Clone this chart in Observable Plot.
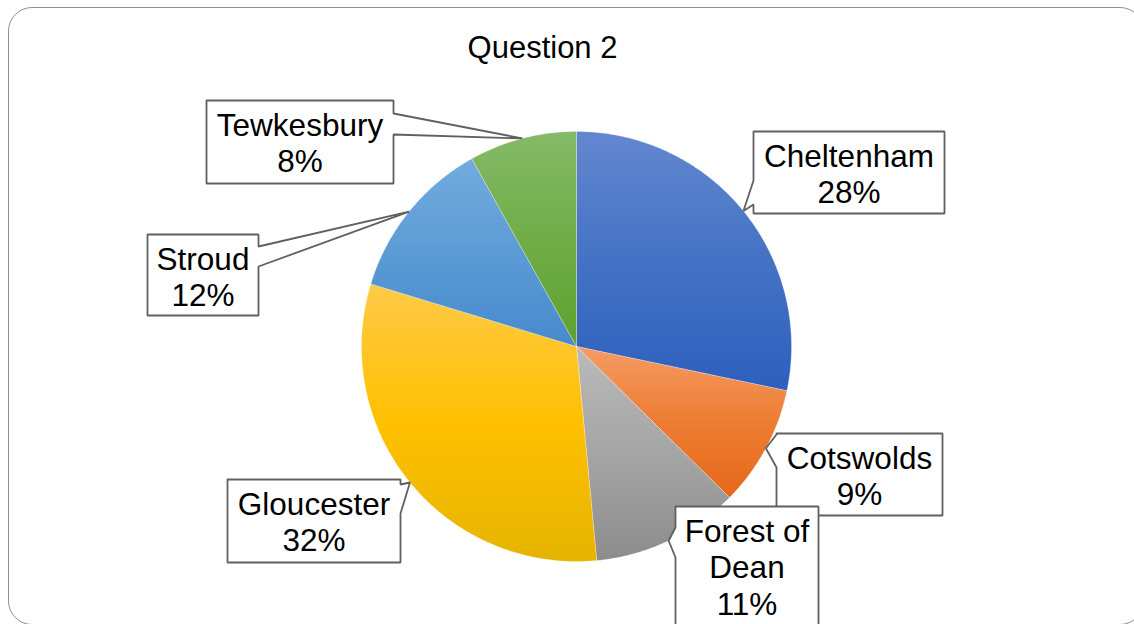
<!DOCTYPE html>
<html><head><meta charset="utf-8">
<script src="https://cdn.jsdelivr.net/npm/d3@7"></script>
<script src="https://cdn.jsdelivr.net/npm/@observablehq/plot@0.6"></script>
<style>
html,body{margin:0;padding:0;background:#fff;overflow:hidden;}
#wrap{position:relative;width:1134px;height:624px;overflow:hidden;background:#fff;}
#chart{position:absolute;left:0;top:0;}
#chart svg{display:block;}
#border{position:absolute;left:8px;top:7px;width:1134px;height:616px;border:1.5px solid #8f8f8f;border-radius:24px;pointer-events:none;}
</style></head><body>
<div id="wrap"><div id="chart"></div><div id="border"></div></div>
<script>
// ---- data ----
const title = "Question 2";
const categories = ["Cheltenham", "Cotswolds", "Forest of Dean", "Gloucester", "Stroud", "Tewkesbury"];
const values = [28.3, 9.1, 11.1, 31.2, 12.2, 8.1];
const percentLabels = ["28%", "9%", "11%", "32%", "12%", "8%"];

// ---- styles ----
const gradientStops = [
  ["#6387cf", "#4472C4", "#2d60bd"],
  ["#f59b66", "#ED7D31", "#e6681b"],
  ["#bababa", "#A5A5A5", "#8c8c8c"],
  ["#ffca48", "#FFC000", "#e5b400"],
  ["#74abdd", "#5B9BD5", "#478acd"],
  ["#85ba68", "#70AD47", "#5fa12f"]
];
const FONT = "'Liberation Sans', Arial, Helvetica, sans-serif";

// ---- layout ----
const W = 1134, H = 624;
const cx = 576, cy = 346, R = 215;
const titlePos = {x: 542, y: 57};
const labelLayout = [
  {lines: ["Cheltenham"], box: [753, 131, 944, 213], side: "left", wedge: [180, 204]},
  {lines: ["Cotswolds"], box: [776, 433, 942, 515], side: "left", wedge: [434, 467]},
  {lines: ["Forest of", "Dean"], box: [675, 506, 818, 650], side: "left", wedge: [527, 557]},
  {lines: ["Gloucester"], box: [227, 479, 400, 562], side: "right", wedge: [484, 513]},
  {lines: ["Stroud"], box: [147, 234, 258, 315], side: "right", wedge: [246, 266]},
  {lines: ["Tewkesbury"], box: [206, 100, 393, 183], side: "right", wedge: [113, 134]}
];
const firstBaseline = 35, lineStep = 36.5;

// ---- derived geometry ----
const total = d3.sum(values);
const pt = (a, r) => ({x: cx + r * Math.sin(a), y: cy - r * Math.cos(a)});
let cum = 0;
const slices = values.map((v, i) => {
  const a0 = cum / total * 2 * Math.PI;
  cum += v;
  const a1 = cum / total * 2 * Math.PI;
  const n = Math.max(2, Math.ceil((a1 - a0) / (Math.PI / 360)));
  const pts = [{x: cx, y: cy}];
  for (let k = 0; k <= n; k++) pts.push(pt(a0 + (a1 - a0) * k / n, R));
  pts.push({x: cx, y: cy});
  return {i, a0, a1, mid: (a0 + a1) / 2, pts};
});

const boxes = labelLayout.map((L, i) => {
  const [x0, y0, x1, y1] = L.box;
  const tip = pt(slices[i].mid, R);
  const [a, b] = L.wedge;
  let poly;
  if (L.side === "left") {
    poly = [{x: x0, y: y0}, {x: x1, y: y0}, {x: x1, y: y1}, {x: x0, y: y1}, {x: x0, y: b}, tip, {x: x0, y: a}, {x: x0, y: y0}];
  } else {
    poly = [{x: x0, y: y0}, {x: x1, y: y0}, {x: x1, y: a}, tip, {x: x1, y: b}, {x: x1, y: y1}, {x: x0, y: y1}, {x: x0, y: y0}];
  }
  return poly;
});

const textRows = [];
labelLayout.forEach((L, i) => {
  const [x0, y0, x1] = L.box;
  const lines = [...L.lines, percentLabels[i]];
  lines.forEach((t, k) => textRows.push({x: (x0 + x1) / 2, y: y0 + firstBaseline + k * lineStep, t}));
});

const marks = [];
slices.forEach(s => {
  marks.push(Plot.line(s.pts, {x: "x", y: "y", fill: `url(#grad${s.i})`, stroke: "#ffffff", strokeWidth: 0.6, strokeOpacity: 0.45, curve: "linear-closed"}));
});
boxes.forEach(poly => {
  marks.push(Plot.line(poly, {x: "x", y: "y", fill: "#ffffff", stroke: "#606060", strokeWidth: 1.8, curve: "linear", strokeLinejoin: "miter"}));
});
marks.push(Plot.text(textRows, {x: "x", y: "y", text: "t", fontSize: 31.5, fill: "#000", lineAnchor: "bottom", textAnchor: "middle", fontFamily: FONT}));
marks.push(Plot.text([title], {x: () => titlePos.x, y: () => titlePos.y, text: d => d, fontSize: 31, fill: "#000", lineAnchor: "bottom", textAnchor: "middle", fontFamily: FONT}));

const svg = Plot.plot({
  width: W, height: H,
  margin: 0,
  x: {domain: [0, W], range: [0, W], axis: null},
  y: {domain: [0, H], range: [0, H], axis: null},
  style: {background: "transparent", fontFamily: FONT, overflow: "visible"},
  marks
});

const defs = d3.select(svg).insert("defs", ":first-child");
gradientStops.forEach((st, i) => {
  const g = defs.append("linearGradient").attr("id", `grad${i}`).attr("x1", 0).attr("y1", 0).attr("x2", 0).attr("y2", 1);
  g.append("stop").attr("offset", "0%").attr("stop-color", st[0]);
  g.append("stop").attr("offset", "50%").attr("stop-color", st[1]);
  g.append("stop").attr("offset", "100%").attr("stop-color", st[2]);
});

document.getElementById("chart").appendChild(svg);
</script>
</body></html>
